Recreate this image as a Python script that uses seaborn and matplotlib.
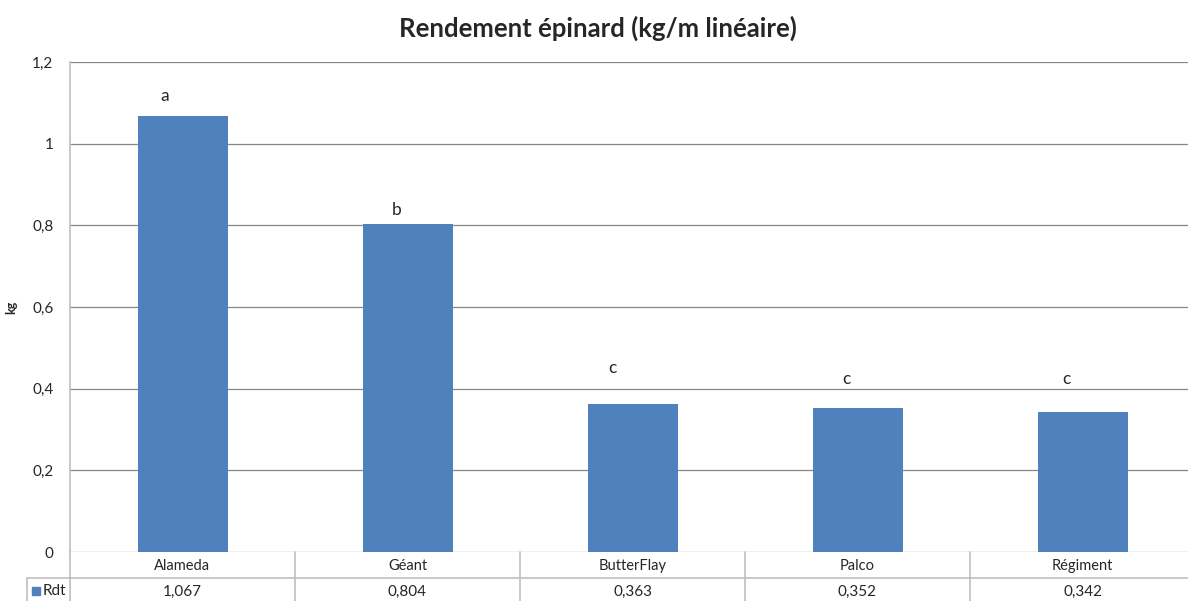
import numpy as np
import pandas as pd
import matplotlib
matplotlib.use("Agg")
import matplotlib.pyplot as plt
import seaborn as sns
from matplotlib.lines import Line2D
from matplotlib.patches import Rectangle

# data
varieties = ["Alameda", "Géant", "ButterFlay", "Palco", "Régiment"]
rdt = [1.067, 0.804, 0.363, 0.352, 0.342]
groups = ["a", "b", "c", "c", "c"]
yticks = [0, 0.2, 0.4, 0.6, 0.8, 1.0, 1.2]

# where the significance letters sit (data coords)
letter_y = [1.117, 0.838, 0.451, 0.424, 0.424]
letter_dx = [-0.08, -0.05, -0.09, -0.05, -0.07]

BLUE = "#4F81BD"
GRID = "#878787"
LINE = "#BFBFBF"

sns.set_style("white")
plt.rcParams["font.family"] = ["Lato", "DejaVu Sans"]

W, H = 1188, 601
fig = plt.figure(figsize=(W / 100, H / 100), dpi=100)
left, right, top, bottom = 70, 1195, 62, 552
ax = fig.add_axes([left / W, 1 - bottom / H, (right - left) / W, (bottom - top) / H])

df = pd.DataFrame({"Variété": varieties, "Rdt": rdt})
sns.barplot(data=df, x="Variété", y="Rdt", color=BLUE, width=0.4, saturation=1,
            linewidth=0, ax=ax, zorder=3)
ax.set_xlim(-0.5, len(varieties) - 0.5)
ax.set_ylim(0, 1.2)
ax.set_yticks(yticks)
ax.set_yticklabels([f"{v:g}".replace(".", ",") for v in yticks], fontsize=11)
ax.tick_params(axis="y", length=0, pad=12)
ax.set_xticks([])
ax.set_xlabel("")
ax.set_ylabel("kg", fontsize=9, fontweight="bold")
ax.yaxis.set_label_coords(-(left - 17) / (right - left), 0.5)
for v in yticks:
    ax.axhline(v, color=GRID, lw=0.9, zorder=1)
for s in ["top", "right", "bottom"]:
    ax.spines[s].set_visible(False)
ax.spines["left"].set_color(LINE)
ax.spines["left"].set_linewidth(1.2)

for i, (g, y, dx) in enumerate(zip(groups, letter_y, letter_dx)):
    ax.text(i + dx, y, g, ha="center", va="center", fontsize=12.5)

fig.text(598 / W, 1 - 28 / H, "Rendement épinard (kg/m linéaire)", ha="center", va="center",
         fontsize=18.5, fontweight="bold")

# data table below the plot
def fx(px):
    return px / W

def fy(py):
    return 1 - py / H

row1, row2 = 578, 601
fig.add_artist(Line2D([fx(27), fx(right)], [fy(row1), fy(row1)], color=LINE, lw=1.2))
fig.add_artist(Line2D([fx(27), fx(27)], [fy(row1), fy(row2)], color=LINE, lw=1.2))
fig.add_artist(Line2D([fx(left), fx(left)], [fy(bottom), fy(row2)], color=LINE, lw=1.2))
cw = (right - left) / len(varieties)
for i, (name, val) in enumerate(zip(varieties, rdt)):
    x0 = left + cw * (i + 1)
    fig.add_artist(Line2D([fx(x0), fx(x0)], [fy(bottom), fy(row2)], color=LINE, lw=1.2))
    cx = left + cw * (i + 0.5)
    fig.text(fx(cx), fy((bottom + row1) / 2 + 1), name, ha="center", va="center", fontsize=10.5)
    fig.text(fx(cx), fy((row1 + row2) / 2 + 2), f"{val:.3f}".replace(".", ","),
             ha="center", va="center", fontsize=11)
fig.add_artist(Rectangle((fx(32), fy(595)), fx(8), 8 / H, color=BLUE))
fig.text(fx(43), fy(591), "Rdt", ha="left", va="center", fontsize=11)

fig.savefig("out.png", dpi=100)
